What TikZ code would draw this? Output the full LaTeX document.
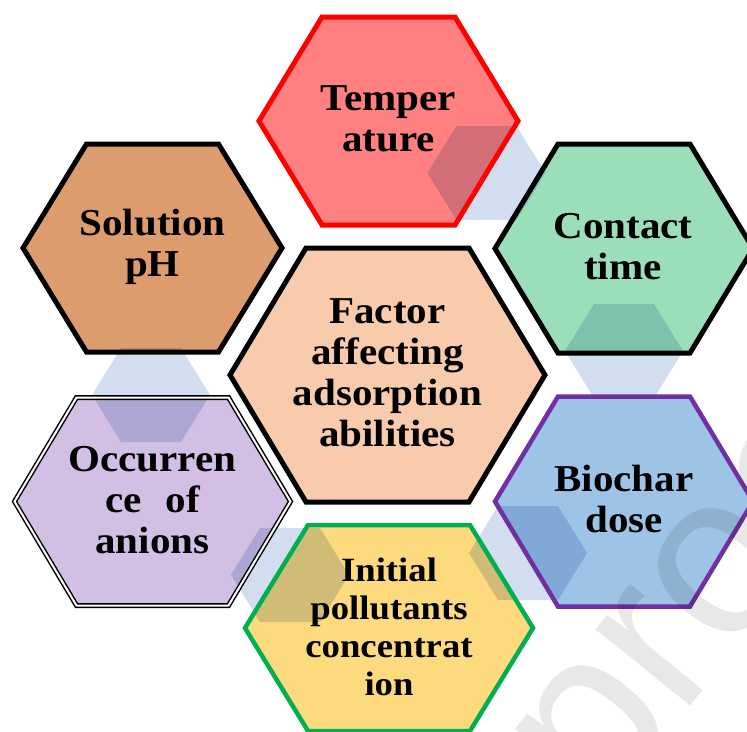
\documentclass[tikz,border=0pt]{standalone}
\usepackage{fontspec}
\setmainfont{Liberation Serif}[FakeStretch=1.08]
\newfontfamily\wmfont{Liberation Sans}
\definecolor{tempfill}{HTML}{FF8080}
\definecolor{tempdraw}{HTML}{FF0000}
\definecolor{solfill}{HTML}{DD9C6E}
\definecolor{contfill}{HTML}{9ADFB9}
\definecolor{cenfill}{HTML}{F8CBAD}
\definecolor{occfill}{HTML}{D3BFE3}
\definecolor{biofill}{HTML}{9DC3E6}
\definecolor{biodraw}{HTML}{7030A0}
\definecolor{inifill}{HTML}{FDDA7E}
\definecolor{inidraw}{HTML}{00B050}
\definecolor{connfill}{HTML}{D2DDEF}
% centre x, centre y, half width, half top edge, half height
\newcommand{\hexpath}[5]{(#1-#3,#2) -- (#1-#4,#2-#5) -- (#1+#4,#2-#5) -- (#1+#3,#2) -- (#1+#4,#2+#5) -- (#1-#4,#2+#5) -- cycle}
\newcommand{\connhex}[2]{\hexpath{#1}{#2}{59}{30}{47}}
\tikzset{
  lbl/.style={font=\bfseries\fontsize{38}{41}\selectfont, align=center, text=black, inner sep=0pt},
  lblsmall/.style={font=\bfseries\fontsize{34}{38}\selectfont, align=center, text=black, inner sep=0pt},
  border/.style={line width=5pt, line join=miter},
  thinborder/.style={line width=4.5pt, line join=miter},
  dblborder/.style={draw=black, double=white, line width=1.5pt, double distance=2pt, line join=miter},
  conn/.style={fill=connfill},
  wm/.style={font=\wmfont\fontsize{230}{230}\selectfont, text=black, text opacity=0.09, inner sep=0pt}
}
\begin{document}
\begin{tikzpicture}[x=1pt,y=-1pt]
\useasboundingbox (0,0) rectangle (747,731);
\clip (0,0) rectangle (747,731);
% fills
\fill[tempfill] \hexpath{388.5}{121}{129.5}{66.5}{104};
\fill[solfill] \hexpath{152.5}{248}{129.5}{66}{104};
\fill[contfill] \hexpath{624}{248.5}{129}{66}{104.5};
\fill[cenfill] \hexpath{387.5}{375}{157.5}{81.5}{127};
\fill[occfill] \hexpath{152.5}{501.5}{138}{76}{104};
\fill[biofill] \hexpath{624}{501.5}{129}{66}{105};
\fill[inifill] \hexpath{389}{628}{144}{81}{103};
% connecting hexagons
\begin{scope}[blend mode=multiply]
\fill[conn] \connhex{486.5}{173};
\fill[conn] \connhex{624}{351};
\fill[conn] \connhex{528}{553};
\fill[conn] \connhex{290}{575};
\fill[conn] \connhex{151}{395};
\end{scope}
% borders
\draw[border, tempdraw] \hexpath{388.5}{121}{129.5}{66.5}{104};
\draw[border, black] \hexpath{152.5}{248}{129.5}{66}{104};
\draw[border, black] \hexpath{624}{248.5}{129}{66}{104.5};
\draw[border, black] \hexpath{387.5}{375}{157.5}{81.5}{127};
\draw[dblborder] \hexpath{152.5}{501.5}{138}{76}{104};
\draw[thinborder, biodraw] \hexpath{624}{501.5}{129}{66}{105};
\draw[thinborder, inidraw] \hexpath{389}{628}{144}{81}{103};
% labels
\node[lbl] (temp) at (388.5,119) {Temper\\ature};
\node[lbl] (sol) at (152.5,247) {Solution\\pH};
\node[lbl] (cont) at (623,247) {Contact\\time};
\node[lbl] (cen) at (387.5,373) {Factor\\affecting\\adsorption\\abilities};
\node[lbl] (occ) at (152.5,500) {Occurren\\ce\hspace{24pt}of\\anions};
\node[lbl] (bio) at (624,499) {Biochar\\dose};
\node[lblsmall] (ini) at (389,627) {Initial\\pollutants\\concentrat\\ion};
% watermark
\node[wm, rotate=51, anchor=base west] (wmark) at (600,818) {proof};
\end{tikzpicture}
\end{document}
